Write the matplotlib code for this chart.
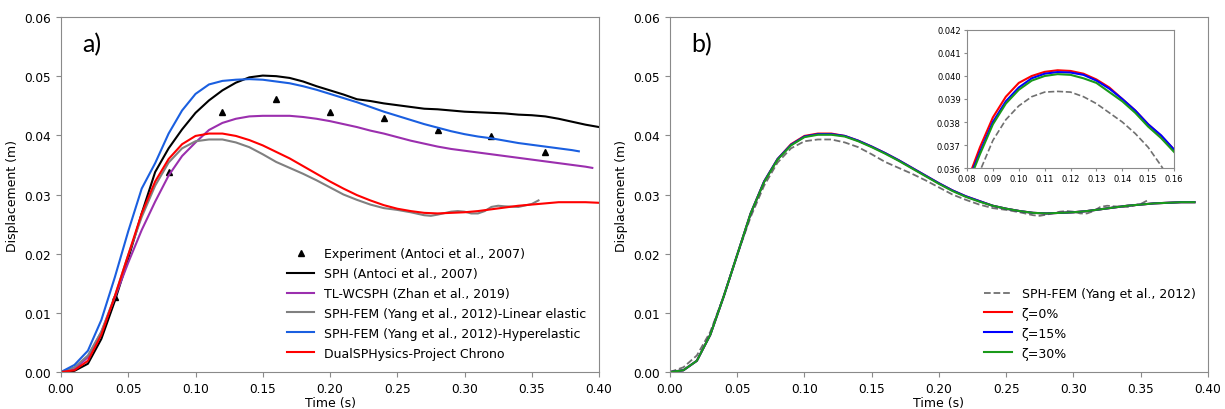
import matplotlib
matplotlib.use("Agg")
import matplotlib.pyplot as plt
import numpy as np

# ---- data ----
t = np.round(np.arange(0, 0.401, 0.01), 2)

exp_t = [0.04, 0.08, 0.12, 0.16, 0.20, 0.24, 0.28, 0.32, 0.36]
exp_y = [0.0126, 0.0338, 0.0439, 0.0462, 0.0439, 0.0430, 0.0409, 0.0399, 0.0372]

sph_y = [0, 0.0002, 0.0014, 0.0056, 0.0120, 0.0192, 0.0268, 0.0338, 0.0378, 0.0410,
         0.0438, 0.0459, 0.0476, 0.0489, 0.0498, 0.0501, 0.0500, 0.0497, 0.0491, 0.0483,
         0.0476, 0.0469, 0.0461, 0.0458, 0.0454, 0.0451, 0.0448, 0.0445, 0.0444, 0.0442,
         0.0440, 0.0439, 0.0438, 0.0437, 0.0435, 0.0434, 0.0432, 0.0428, 0.0423, 0.0418,
         0.0414]

tl_t = list(t[:40]) + [0.395]
tl_y = [0, 0.0005, 0.0025, 0.0068, 0.0126, 0.0185, 0.0240, 0.0288, 0.0332, 0.0365,
        0.0388, 0.0409, 0.0421, 0.0428, 0.0432, 0.0433, 0.0433, 0.0433, 0.0431, 0.0428,
        0.0424, 0.0419, 0.0414, 0.0408, 0.0403, 0.0397, 0.0391, 0.0386, 0.0381, 0.0377,
        0.0374, 0.0371, 0.0368, 0.0365, 0.0362, 0.0359, 0.0356, 0.0353, 0.0350, 0.0347,
        0.0345]

lin_t = [0, 0.01, 0.02, 0.03, 0.04, 0.05, 0.06, 0.07, 0.08, 0.09, 0.10, 0.11, 0.12, 0.13,
         0.14, 0.15, 0.16, 0.17, 0.18, 0.19, 0.20, 0.21, 0.22, 0.23, 0.24, 0.25, 0.26, 0.27,
         0.275, 0.28, 0.29, 0.295, 0.30, 0.305, 0.31, 0.315, 0.32, 0.325, 0.33, 0.34, 0.35,
         0.355]
lin_y = [0, 0.0008, 0.0028, 0.0068, 0.0128, 0.0198, 0.0262, 0.0315, 0.0354, 0.0378,
         0.0390, 0.0393, 0.0393, 0.0388, 0.0380, 0.0368, 0.0355, 0.0345, 0.0335, 0.0324,
         0.0312, 0.0300, 0.0291, 0.0283, 0.0277, 0.0274, 0.0270, 0.0265, 0.0264, 0.0266,
         0.0271, 0.0272, 0.0271, 0.0268, 0.0268, 0.0272, 0.0279, 0.0281, 0.0280, 0.0279,
         0.0284, 0.0290]

hyp_t = list(t[:39]) + [0.385]
hyp_y = [0, 0.0012, 0.0036, 0.0088, 0.0160, 0.0238, 0.0310, 0.0353, 0.0403, 0.0442,
         0.0470, 0.0486, 0.0492, 0.0494, 0.0495, 0.0494, 0.0491, 0.0488, 0.0483, 0.0477,
         0.0470, 0.0463, 0.0456, 0.0448, 0.0440, 0.0433, 0.0426, 0.0419, 0.0413, 0.0407,
         0.0402, 0.0398, 0.0395, 0.0391, 0.0387, 0.0384, 0.0381, 0.0378, 0.0375, 0.0373]

dual_y = [0, 0.0003, 0.0019, 0.0063, 0.0128, 0.0198, 0.0268, 0.0322, 0.0360, 0.0385,
          0.0399, 0.0403, 0.0403, 0.0399, 0.0392, 0.0383, 0.0372, 0.0361, 0.0348, 0.0335,
          0.0322, 0.0310, 0.0299, 0.0290, 0.0282, 0.0276, 0.0272, 0.0269, 0.0268, 0.0269,
          0.0270, 0.0272, 0.0275, 0.0278, 0.0281, 0.0283, 0.0285, 0.0287, 0.0287, 0.0287,
          0.0286]

# panel b
tb = t[:40]
z0_y = [0, 0.0003, 0.0019, 0.0063, 0.0128, 0.0198, 0.0268, 0.0322, 0.0360, 0.0385,
        0.0399, 0.0403, 0.0403, 0.0399, 0.0391, 0.0381, 0.0370, 0.0358, 0.0345, 0.0332,
        0.0319, 0.0307, 0.0297, 0.0289, 0.0281, 0.0276, 0.0272, 0.0269, 0.0268, 0.0269,
        0.0270, 0.0272, 0.0275, 0.0278, 0.0281, 0.0283, 0.0285, 0.0286, 0.0287, 0.0287]
z15_y = [0, 0.0003, 0.0019, 0.0063, 0.0128, 0.0198, 0.0268, 0.0322, 0.0360, 0.0384,
         0.0398, 0.0402, 0.0402, 0.0399, 0.0391, 0.0381, 0.0370, 0.0358, 0.0345, 0.0332,
         0.0319, 0.0307, 0.0297, 0.0289, 0.0281, 0.0276, 0.0272, 0.0269, 0.0268, 0.0269,
         0.0270, 0.0272, 0.0275, 0.0278, 0.0281, 0.0283, 0.0285, 0.0286, 0.0287, 0.0287]
z30_y = [0, 0.0003, 0.0019, 0.0063, 0.0128, 0.0198, 0.0268, 0.0321, 0.0359, 0.0383,
         0.0397, 0.0401, 0.0401, 0.0398, 0.0390, 0.0380, 0.0369, 0.0357, 0.0344, 0.0331,
         0.0318, 0.0306, 0.0296, 0.0288, 0.0281, 0.0276, 0.0272, 0.0269, 0.0268, 0.0269,
         0.0270, 0.0272, 0.0275, 0.0278, 0.0281, 0.0283, 0.0285, 0.0286, 0.0287, 0.0287]

# inset (zoom on the peak)
ins_t = [0.080, 0.085, 0.090, 0.095, 0.100, 0.105, 0.110, 0.115, 0.120, 0.125, 0.130,
         0.135, 0.140, 0.145, 0.150, 0.155, 0.160]
ins_z0 = [0.0354, 0.0369, 0.0382, 0.0391, 0.0397, 0.0400, 0.04018, 0.04025, 0.04022,
          0.0401, 0.03985, 0.0395, 0.0390, 0.0385, 0.0379, 0.0374, 0.0368]
ins_z15 = [0.0353, 0.0367, 0.0380, 0.0389, 0.0395, 0.0399, 0.0401, 0.04017, 0.04015,
           0.04005, 0.0398, 0.03945, 0.0390, 0.0385, 0.0379, 0.03742, 0.0368]
ins_z30 = [0.0352, 0.0366, 0.0379, 0.0388, 0.0394, 0.0398, 0.0400, 0.04008, 0.04005,
           0.0399, 0.0397, 0.0393, 0.0389, 0.0384, 0.0378, 0.0373, 0.0367]
ins_fem_t = [0.080, 0.0855, 0.090, 0.095, 0.100, 0.105, 0.110, 0.115, 0.120, 0.125,
             0.130, 0.135, 0.140, 0.145, 0.150, 0.155, 0.160]
ins_fem = [0.0342, 0.0360, 0.0372, 0.0381, 0.0387, 0.0391, 0.0393, 0.03933, 0.0393,
           0.0391, 0.0388, 0.0384, 0.0380, 0.0375, 0.0369, 0.0361, 0.0352]

spine_c = "#8a8a8a"


def style(ax, fs=8.7):
    for s in ax.spines.values():
        s.set_color(spine_c)
    ax.tick_params(colors=spine_c, labelcolor="black", labelsize=fs, length=3.5)


fig = plt.figure(figsize=(12.25, 4.1), dpi=100)
ax1 = fig.add_axes([0.0498, 0.0902, 0.4392, 0.8659])
ax2 = fig.add_axes([0.5469, 0.0902, 0.4392, 0.8659])
axi = fig.add_axes([0.7894, 0.5878, 0.169, 0.3366])

# panel a
ax1.plot(exp_t, exp_y, "^", color="black", ms=5, label="Experiment (Antoci et al., 2007)")
ax1.plot(t, sph_y, color="black", lw=1.5, label="SPH (Antoci et al., 2007)")
ax1.plot(tl_t, tl_y, color="#9b2fae", lw=1.5, label="TL-WCSPH (Zhan et al., 2019)")
ax1.plot(lin_t, lin_y, color="#808080", lw=1.5,
         label="SPH-FEM (Yang et al., 2012)-Linear elastic")
ax1.plot(hyp_t, hyp_y, color="#1a5fe0", lw=1.5,
         label="SPH-FEM (Yang et al., 2012)-Hyperelastic")
ax1.plot(t, dual_y, color="red", lw=1.5, label="DualSPHysics-Project Chrono")
ax1.set_xlim(0, 0.4)
ax1.set_ylim(0, 0.06)
ax1.set_xlabel("Time (s)", fontsize=9, labelpad=1)
ax1.set_ylabel("Displacement (m)", fontsize=9)
ax1.text(0.039, 0.925, "a)", transform=ax1.transAxes, fontsize=18, va="center",
         family="Lato")
ax1.legend(loc="lower right", frameon=False, fontsize=9, labelspacing=0.55,
           handlelength=2.2, borderaxespad=0.6)
style(ax1)

# panel b
ax2.plot(lin_t, lin_y, "--", color="#707070", lw=1.3, label="SPH-FEM (Yang et al., 2012)")
ax2.plot(tb, z0_y, color="red", lw=1.5, label="ζ=0%")
ax2.plot(tb, z15_y, color="blue", lw=1.5, label="ζ=15%")
ax2.plot(tb, z30_y, color="#1a9a1a", lw=1.5, label="ζ=30%")
ax2.set_xlim(0, 0.4)
ax2.set_ylim(0, 0.06)
ax2.set_xlabel("Time (s)", fontsize=9, labelpad=1)
ax2.set_ylabel("Displacement (m)", fontsize=9)
ax2.text(0.039, 0.925, "b)", transform=ax2.transAxes, fontsize=18, va="center",
         family="Lato")
ax2.legend(loc="lower right", frameon=False, fontsize=9, labelspacing=0.55,
           handlelength=2.2, borderaxespad=0.6)
style(ax2)

# inset
axi.plot(ins_fem_t, ins_fem, "--", color="#707070", lw=1.2)
axi.plot(ins_t, ins_z0, color="red", lw=1.5)
axi.plot(ins_t, ins_z15, color="blue", lw=1.5)
axi.plot(ins_t, ins_z30, color="#1a9a1a", lw=1.5)
axi.set_xlim(0.08, 0.16)
axi.set_ylim(0.036, 0.042)
axi.set_xticks(np.round(np.arange(0.08, 0.161, 0.01), 2))
axi.set_yticks(np.round(np.arange(0.036, 0.0421, 0.001), 3))
axi.xaxis.set_major_formatter(matplotlib.ticker.FormatStrFormatter("%.2f"))
axi.yaxis.set_major_formatter(matplotlib.ticker.FormatStrFormatter("%.3f"))
style(axi, fs=6)
axi.tick_params(length=2.5, pad=2)

fig.savefig("out.png", dpi=100)
